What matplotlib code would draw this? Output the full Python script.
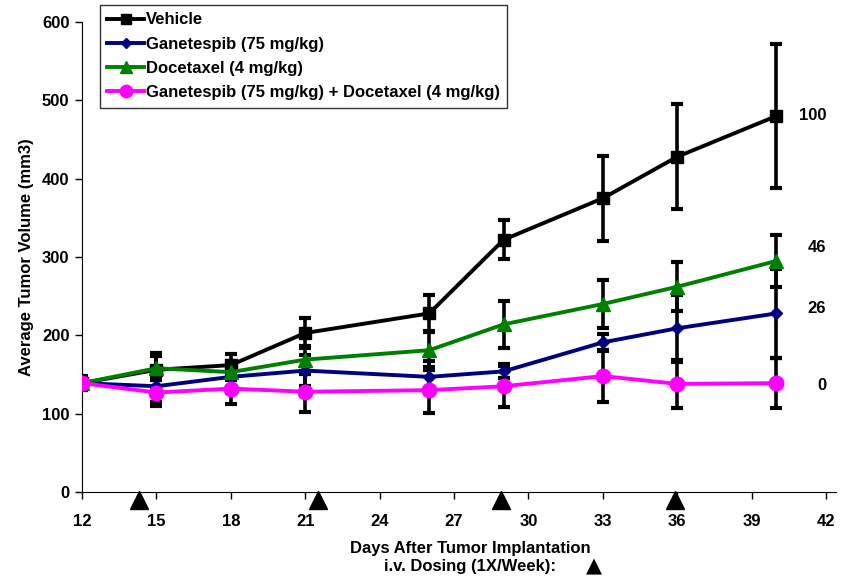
import matplotlib
matplotlib.use("Agg")
import matplotlib.pyplot as plt

days = [12, 15, 18, 21, 26, 29, 33, 36, 40]
series_names = ["Vehicle", "Ganetespib (75 mg/kg)", "Docetaxel (4 mg/kg)",
                "Ganetespib (75 mg/kg) + Docetaxel (4 mg/kg)"]
vehicle = [139, 156, 162, 203, 228, 322, 375, 428, 480]
vehicle_err = [9, 22, 14, 19, 24, 25, 54, 67, 92]
ganetespib = [139, 135, 147, 155, 147, 154, 191, 209, 228]
ganetespib_err = [5, 20, 20, 20, 20, 9, 11, 43, 57]
docetaxel = [139, 158, 153, 169, 181, 214, 240, 262, 295]
docetaxel_err = [5, 15, 10, 18, 25, 30, 31, 31, 33]
combo = [139, 127, 132, 128, 130, 135, 148, 138, 139]
combo_err = [8, 17, 20, 26, 29, 26, 33, 31, 32]
end_labels = ["100", "46", "26", "0"]
end_label_y = [480, 312, 234, 136]
dosing_days = [14.3, 21.5, 28.9, 35.9]
xticks = [12, 15, 18, 21, 24, 27, 30, 33, 36, 39, 42]
yticks = [0, 100, 200, 300, 400, 500, 600]

plt.rcParams['font.family'] = ['Liberation Sans', 'DejaVu Sans']
plt.rcParams['font.weight'] = 'bold'
FS = 12

fig = plt.figure(figsize=(8.62, 5.79), dpi=100)
ax = fig.add_axes([82/862, 1-492/579, 754/862, (492-22)/579])

styles = [
    (vehicle, vehicle_err, "black", "s", 9),
    (ganetespib, ganetespib_err, "#000080", "D", 6.5),
    (docetaxel, docetaxel_err, "#008000", "^", 9.5),
    (combo, combo_err, "#ff00ff", "o", 10.5),
]
for (vals, err, col, mk, ms), name in zip(styles, series_names):
    ax.errorbar(days, vals, yerr=err, fmt="none", ecolor="black",
                elinewidth=2.6, capsize=4.5, capthick=3, zorder=2)
    ax.plot(days, vals, color=col, marker=mk, markersize=ms, lw=2.8,
            markeredgecolor=col, label=name, zorder=3)

for lab, yv in zip(end_labels, end_label_y):
    ax.text(42.0, yv, lab, ha="right", va="center", fontsize=FS, fontweight="bold")

ax.plot(dosing_days, [-10]*len(dosing_days), linestyle="none", marker="^",
        color="black", markersize=13, clip_on=False, zorder=5)

ax.set_xlim(12, 42.4)
ax.set_ylim(0, 600)
ax.set_xticks(xticks)
ax.set_yticks(yticks)
ax.spines['top'].set_visible(False)
ax.spines['right'].set_visible(False)
ax.tick_params(axis='both', labelsize=FS, width=1, length=5, direction='out')
ax.tick_params(axis='x', pad=11)
ax.tick_params(axis='y', pad=4)
for lbl in ax.get_xticklabels() + ax.get_yticklabels():
    lbl.set_fontweight('bold')

ax.set_ylabel("Average Tumor Volume (mm3)", fontsize=FS, fontweight="bold", labelpad=6)
fig.text(470/862, 1-549/579, "Days After Tumor Implantation", ha="center", va="center",
         fontsize=FS, fontweight="bold")
fig.text(470/862, 1-567/579, "i.v. Dosing (1X/Week):", ha="center", va="center",
         fontsize=FS, fontweight="bold")
fig.text(594/862, 1-566/579, "\u25B2", ha="center", va="center", fontsize=15,
         family=['DejaVu Sans'])

leg = ax.legend(loc="upper left", bbox_to_anchor=(18/754, 1+17/470), fontsize=FS,
                frameon=True, fancybox=False, edgecolor="black", borderpad=0.45,
                labelspacing=0.55, handlelength=2.2, handletextpad=0.1,
                borderaxespad=0, markerscale=0.85)
leg.get_frame().set_linewidth(1)
for t in leg.get_texts():
    t.set_fontweight('bold')

fig.savefig("out.png", dpi=100)
